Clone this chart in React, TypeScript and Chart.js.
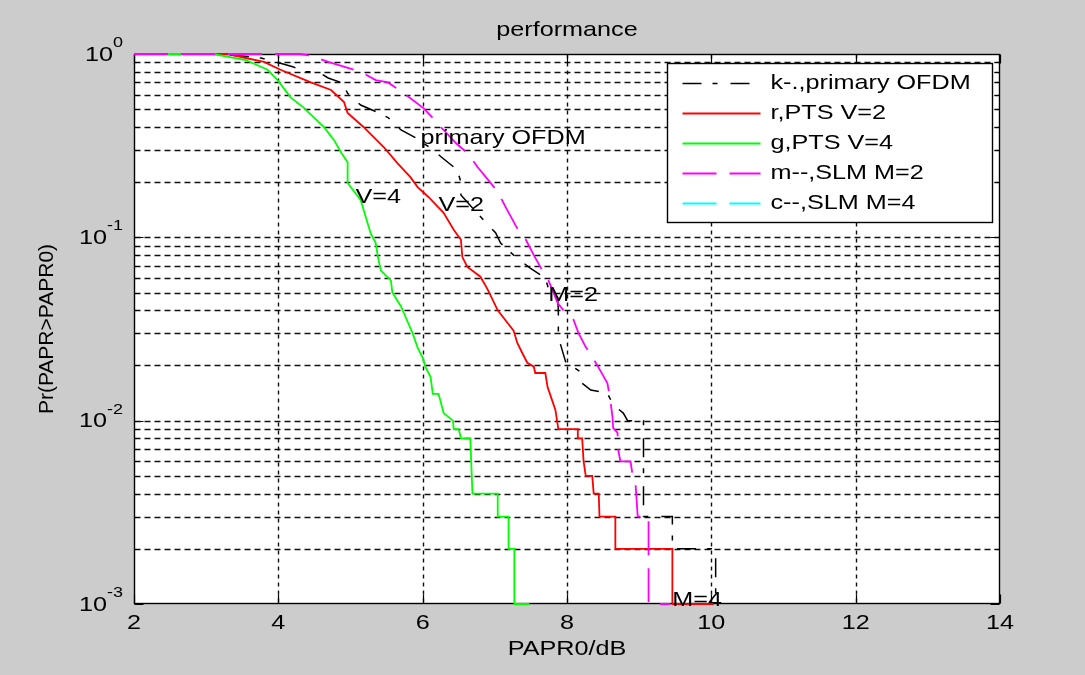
import React, { useEffect, useRef } from 'react';
import { Chart, registerables } from 'chart.js';

Chart.register(...registerables);

// Axis ticks
const xTicks = [2, 4, 6, 8, 10, 12, 14];
const yDecades = [0.001, 0.01, 0.1, 1];
const yDecadeExponents = ['-3', '-2', '-1', '0'];
const minorMultipliers = [2, 3, 4, 5, 6, 7, 8, 9];

// Legend entries
const seriesNames = ['k-.,primary OFDM', 'r,PTS V=2', 'g,PTS V=4', 'm--,SLM M=2', 'c--,SLM M=4'];

// CCDF curves: PAPR0 (dB) vs Pr(PAPR>PAPR0)
const primaryX = [2, 3.2, 3.76, 4.03, 4.21, 4.35, 4.55, 4.69, 4.89, 4.96, 5.14, 5.38, 5.52, 5.70, 5.90, 6.11, 6.28, 6.48, 6.53, 6.53, 6.87, 7.01, 7.08, 7.29, 7.49, 7.70, 7.74, 7.87, 7.88, 7.88, 7.98, 8.19, 8.21, 8.33, 8.56, 8.64, 8.78, 8.84, 9.06, 9.06, 9.46, 9.46, 10.06, 10.06];
const primaryY = [1, 1, 0.95, 0.89, 0.85, 0.80, 0.80, 0.74, 0.695, 0.61, 0.527, 0.48, 0.45, 0.385, 0.35, 0.307, 0.27, 0.233, 0.20, 0.17, 0.121, 0.106, 0.093, 0.078, 0.068, 0.060, 0.053, 0.047, 0.040, 0.0286, 0.021, 0.0184, 0.016, 0.0147, 0.0141, 0.0122, 0.011, 0.010, 0.010, 0.003, 0.003, 0.002, 0.002, 0.001];

const ptsV2X = [2, 3.3, 3.5, 3.80, 4.03, 4.45, 4.73, 4.91, 4.96, 5.18, 5.46, 5.65, 5.83, 5.93, 6.08, 6.29, 6.43, 6.53, 6.55, 6.62, 6.80, 6.90, 7.04, 7.18, 7.26, 7.31, 7.38, 7.45, 7.54, 7.56, 7.70, 7.73, 7.80, 7.84, 7.88, 8.15, 8.15, 8.21, 8.23, 8.26, 8.35, 8.37, 8.44, 8.45, 8.67, 8.67, 9.46, 9.46, 10.03];
const ptsV2Y = [1, 1, 0.96, 0.905, 0.82, 0.70, 0.636, 0.547, 0.477, 0.40, 0.311, 0.254, 0.213, 0.188, 0.166, 0.136, 0.110, 0.097, 0.078, 0.069, 0.061, 0.052, 0.040, 0.034, 0.031, 0.0266, 0.0234, 0.0207, 0.0197, 0.0182, 0.0182, 0.0153, 0.0127, 0.0114, 0.009, 0.009, 0.008, 0.008, 0.006, 0.005, 0.005, 0.004, 0.004, 0.003, 0.003, 0.002, 0.002, 0.001, 0.001];

const ptsV4X = [2, 3.1, 3.55, 3.85, 3.99, 4.17, 4.35, 4.52, 4.63, 4.77, 4.87, 4.96, 4.96, 5.14, 5.28, 5.35, 5.38, 5.42, 5.56, 5.58, 5.70, 5.76, 5.86, 5.93, 6.00, 6.04, 6.11, 6.14, 6.22, 6.29, 6.42, 6.43, 6.50, 6.53, 6.66, 6.69, 7.04, 7.04, 7.19, 7.19, 7.27, 7.27, 7.48];
const ptsV4Y = [1, 1, 0.927, 0.82, 0.72, 0.58, 0.51, 0.44, 0.40, 0.34, 0.29, 0.257, 0.198, 0.16, 0.105, 0.093, 0.078, 0.066, 0.058, 0.050, 0.042, 0.037, 0.030, 0.025, 0.022, 0.0196, 0.0173, 0.014, 0.014, 0.011, 0.010, 0.009, 0.009, 0.008, 0.008, 0.004, 0.004, 0.003, 0.003, 0.002, 0.002, 0.001, 0.001];

const slmM2X = [2, 4.30, 4.45, 4.69, 5.14, 5.35, 5.52, 5.74, 6.01, 6.14, 6.29, 6.46, 6.62, 6.76, 6.91, 7.04, 7.15, 7.31, 7.43, 7.54, 7.63, 7.74, 7.87, 7.95, 8.09, 8.16, 8.26, 8.35, 8.46, 8.56, 8.60, 8.63, 8.64, 8.70, 8.71, 8.74, 8.88, 8.91, 8.95, 8.98, 9.13, 9.13, 9.43];
const slmM2Y = [1, 1, 0.98, 0.905, 0.80, 0.72, 0.70, 0.61, 0.507, 0.448, 0.385, 0.327, 0.288, 0.242, 0.205, 0.177, 0.146, 0.112, 0.097, 0.080, 0.069, 0.0585, 0.044, 0.040, 0.0355, 0.030, 0.0252, 0.0223, 0.0188, 0.016, 0.013, 0.0105, 0.0091, 0.0086, 0.0069, 0.006, 0.006, 0.005, 0.0045, 0.003, 0.003, 0.001, 0.001];

const slmM4X: number[] = [];
const slmM4Y: number[] = [];

// In-plot text labels (data coordinates)
const labelTexts = ['primary OFDM', 'V=4', 'V=2', 'M=2', 'M=4'];
const labelX = [5.97, 5.07, 6.22, 7.74, 9.46];
const labelY = [0.348, 0.166, 0.150, 0.0485, 0.00105];

const FONT = '"Liberation Sans", Arial, Helvetica, sans-serif';
const TEXT_SX = 1.2;
const FIG_BG = '#cccccc';
const GRID_COLOR = '#111111';

function drawText(
  ctx: CanvasRenderingContext2D,
  s: string,
  x: number,
  y: number,
  size: number,
  align: CanvasTextAlign = 'left',
  baseline: CanvasTextBaseline = 'middle'
) {
  ctx.save();
  ctx.font = `${size}px ${FONT}`;
  ctx.textAlign = align;
  ctx.textBaseline = baseline;
  ctx.fillStyle = '#000';
  ctx.translate(x, y);
  ctx.scale(TEXT_SX, 1);
  ctx.fillText(s, 0, 0);
  ctx.restore();
}

function textWidth(ctx: CanvasRenderingContext2D, s: string, size: number) {
  ctx.save();
  ctx.font = `${size}px ${FONT}`;
  const w = ctx.measureText(s).width * TEXT_SX;
  ctx.restore();
  return w;
}

const toPoints = (xs: number[], ys: number[]) => xs.map((x, i) => ({ x, y: ys[i] }));

const axesPlugin = {
  id: 'matlabAxes',
  beforeDraw(chart: any) {
    const { ctx, width, height } = chart;
    ctx.save();
    ctx.fillStyle = FIG_BG;
    ctx.fillRect(0, 0, width, height);
    ctx.restore();
  },
  beforeDatasetsDraw(chart: any) {
    const { ctx, chartArea } = chart;
    const { left, right, top, bottom } = chartArea;
    const xs = chart.scales.x;
    const ys = chart.scales.y;
    const L = Math.round(left) + 0.5;
    const R = Math.round(right) - 0.5;
    const T = Math.round(top) + 0.5;
    const B = Math.round(bottom) - 0.5;

    ctx.save();
    ctx.fillStyle = '#ffffff';
    ctx.fillRect(left, top, right - left, bottom - top);

    // horizontal grid at every log tick
    ctx.strokeStyle = GRID_COLOR;
    ctx.lineWidth = 1.4;
    ctx.setLineDash([6, 4]);
    const yTickVals: { v: number; major: boolean }[] = [];
    yDecades.forEach((d, i) => {
      yTickVals.push({ v: d, major: true });
      if (i < yDecades.length - 1) minorMultipliers.forEach((m) => yTickVals.push({ v: d * m, major: false }));
    });
    yTickVals.forEach(({ v }) => {
      if (v >= 1 || v <= 0.001) return;
      const py = Math.round(ys.getPixelForValue(v)) + 0.5;
      ctx.beginPath();
      ctx.moveTo(L, py);
      ctx.lineTo(R, py);
      ctx.stroke();
    });

    // vertical grid
    ctx.setLineDash([4, 4]);
    xTicks.forEach((v) => {
      if (v === xTicks[0] || v === xTicks[xTicks.length - 1]) return;
      const px = Math.round(xs.getPixelForValue(v)) + 0.5;
      ctx.beginPath();
      ctx.moveTo(px, T);
      ctx.lineTo(px, B);
      ctx.stroke();
    });

    // box
    ctx.setLineDash([]);
    ctx.strokeStyle = '#000';
    ctx.lineWidth = 1.4;
    ctx.strokeRect(L, T, R - L, B - T);

    // tick marks, inward on all four sides
    ctx.lineWidth = 1.2;
    xTicks.forEach((v) => {
      const px = Math.round(xs.getPixelForValue(v)) + 0.5;
      ctx.beginPath();
      ctx.moveTo(px, B);
      ctx.lineTo(px, B - 9);
      ctx.moveTo(px, T);
      ctx.lineTo(px, T + 9);
      ctx.stroke();
    });
    yTickVals.forEach(({ v, major }) => {
      const py = Math.round(ys.getPixelForValue(v)) + 0.5;
      const len = major ? 9 : 5;
      ctx.beginPath();
      ctx.moveTo(L, py);
      ctx.lineTo(L + len, py);
      ctx.moveTo(R, py);
      ctx.lineTo(R - len, py);
      ctx.stroke();
    });

    // x tick labels
    xTicks.forEach((v) => {
      drawText(ctx, String(v), xs.getPixelForValue(v), bottom + 19, 21, 'center');
    });

    // y tick labels: 10 with superscript exponent
    yDecades.forEach((v, i) => {
      const py = ys.getPixelForValue(v);
      const exp = yDecadeExponents[i];
      const rightEdge = left - 11;
      const wSup = textWidth(ctx, exp, 15);
      drawText(ctx, exp, rightEdge, py - 11, 15, 'right');
      drawText(ctx, '10', rightEdge - wSup, py + 1, 21, 'right');
    });

    // title and axis labels
    const cx = (left + right) / 2;
    drawText(ctx, 'performance', cx, top - 24, 21, 'center');
    drawText(ctx, 'PAPR0/dB', cx, bottom + 45, 21, 'center');
    ctx.save();
    ctx.font = `21px ${FONT}`;
    ctx.fillStyle = '#000';
    ctx.textAlign = 'center';
    ctx.textBaseline = 'middle';
    ctx.translate(47, (top + bottom) / 2);
    ctx.rotate(-Math.PI / 2);
    ctx.fillText('Pr(PAPR>PAPR0)', 0, 0);
    ctx.restore();

    ctx.restore();
  },
  afterDatasetsDraw(chart: any) {
    const { ctx, chartArea } = chart;
    const xs = chart.scales.x;
    const ys = chart.scales.y;

    // text annotations
    labelTexts.forEach((t, i) => {
      drawText(ctx, t, xs.getPixelForValue(labelX[i]), ys.getPixelForValue(labelY[i]), 21, 'left');
    });

    // legend box
    const bx = Math.round(chartArea.right) - 333 + 0.5;
    const by = Math.round(chartArea.top) + 9 + 0.5;
    const bw = 325;
    const bh = 159;
    ctx.save();
    ctx.fillStyle = '#fff';
    ctx.fillRect(bx, by, bw, bh);
    ctx.strokeStyle = '#000';
    ctx.lineWidth = 1.4;
    ctx.setLineDash([]);
    ctx.strokeRect(bx, by, bw, bh);
    chart.data.datasets.forEach((ds: any, i: number) => {
      const ry = by + 20 + i * 30;
      ctx.save();
      ctx.strokeStyle = ds.borderColor;
      ctx.lineWidth = ds.borderWidth;
      ctx.setLineDash(ds.borderDash || []);
      ctx.beginPath();
      ctx.moveTo(bx + 15, ry);
      ctx.lineTo(bx + 93, ry);
      ctx.stroke();
      ctx.restore();
      drawText(ctx, seriesNames[i], bx + 103, ry, 21, 'left');
    });
    ctx.restore();
  },
};

export default function App() {
  const canvasRef = useRef<HTMLCanvasElement | null>(null);

  useEffect(() => {
    if (!canvasRef.current) return;
    const chart = new Chart(canvasRef.current, {
      type: 'line',
      data: {
        datasets: [
          { label: seriesNames[0], data: toPoints(primaryX, primaryY), borderColor: '#000000', borderWidth: 1.5, borderDash: [19, 11, 5, 13], order: 5, clip: 3 },
          { label: seriesNames[1], data: toPoints(ptsV2X, ptsV2Y), borderColor: '#ff0000', borderWidth: 1.8, order: 4, clip: 3 },
          { label: seriesNames[2], data: toPoints(ptsV4X, ptsV4Y), borderColor: '#00ff00', borderWidth: 1.8, order: 3, clip: 3 },
          { label: seriesNames[3], data: toPoints(slmM2X, slmM2Y), borderColor: '#ff00ff', borderWidth: 1.8, borderDash: [34, 13], order: 2, clip: 3 },
          { label: seriesNames[4], data: toPoints(slmM4X, slmM4Y), borderColor: '#00ffff', borderWidth: 1.8, borderDash: [34, 13], order: 1, clip: 3 },
        ],
      },
      options: {
        animation: false,
        responsive: false,
        maintainAspectRatio: false,
        layout: { padding: { left: 134, top: 54, right: 85, bottom: 71 } },
        elements: { point: { radius: 0, hoverRadius: 0 }, line: { tension: 0, fill: false } },
        scales: {
          x: { type: 'linear', min: 2, max: 14, display: false },
          y: { type: 'logarithmic', min: 0.001, max: 1, display: false },
        },
        plugins: { legend: { display: false }, tooltip: { enabled: false }, title: { display: false } },
      },
      plugins: [axesPlugin],
    } as any);
    return () => chart.destroy();
  }, []);

  return (
    <div style={{ position: 'absolute', left: 0, top: 0, width: 1085, height: 675, background: FIG_BG }}>
      <canvas ref={canvasRef} width={1085} height={675} style={{ display: 'block' }} />
    </div>
  );
}
